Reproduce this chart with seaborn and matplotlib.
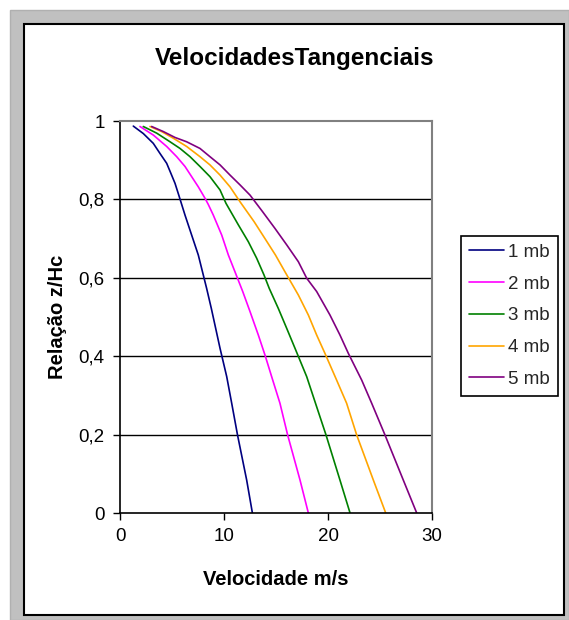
import numpy as np
import pandas as pd
import seaborn as sns
import matplotlib
matplotlib.use("Agg")
import matplotlib.pyplot as plt
from matplotlib.patches import Rectangle
from matplotlib.ticker import FuncFormatter

# ---- data ----
labels = ["1 mb", "2 mb", "3 mb", "4 mb", "5 mb"]
colors = ["#000080", "#FF00FF", "#008000", "#FFA500", "#800080"]

z1 = [0.987, 0.968, 0.943, 0.917, 0.892, 0.866, 0.841, 0.811, 0.760, 0.709, 0.658, 0.607, 0.573, 0.522, 0.471, 0.420, 0.348, 0.280, 0.199, 0.084, 0.0]
v1 = [1.28, 2.24, 3.20, 3.85, 4.49, 4.90, 5.29, 5.65, 6.25, 6.89, 7.53, 8.01, 8.33, 8.78, 9.20, 9.62, 10.26, 10.74, 11.30, 12.18, 12.73]

z2 = [0.986, 0.964, 0.935, 0.909, 0.884, 0.858, 0.832, 0.803, 0.787, 0.760, 0.709, 0.658, 0.615, 0.565, 0.514, 0.454, 0.403, 0.348, 0.280, 0.199, 0.084, 0.0]
v2 = [1.92, 3.21, 4.49, 5.45, 6.25, 6.89, 7.53, 8.17, 8.49, 8.97, 9.78, 10.42, 11.06, 11.80, 12.50, 13.30, 13.94, 14.58, 15.38, 16.12, 17.31, 18.11]

z3 = [0.986, 0.969, 0.947, 0.930, 0.909, 0.884, 0.858, 0.824, 0.790, 0.735, 0.692, 0.650, 0.607, 0.573, 0.522, 0.471, 0.420, 0.348, 0.271, 0.199, 0.084, 0.0]
v3 = [2.24, 3.53, 4.81, 5.77, 6.73, 7.69, 8.65, 9.62, 10.19, 11.38, 12.34, 13.14, 13.85, 14.35, 15.22, 16.03, 16.83, 17.95, 18.91, 19.81, 21.15, 22.12]

z4 = [0.986, 0.973, 0.956, 0.935, 0.909, 0.888, 0.862, 0.832, 0.794, 0.743, 0.700, 0.658, 0.615, 0.556, 0.505, 0.454, 0.407, 0.339, 0.280, 0.199, 0.084, 0.0]
v4 = [2.88, 4.01, 5.13, 6.41, 7.69, 8.65, 9.62, 10.58, 11.54, 12.90, 13.94, 14.95, 15.87, 17.15, 18.11, 18.91, 19.71, 20.83, 21.79, 22.76, 24.36, 25.55]

z5 = [0.986, 0.973, 0.958, 0.947, 0.930, 0.909, 0.888, 0.862, 0.837, 0.811, 0.769, 0.726, 0.684, 0.641, 0.599, 0.565, 0.505, 0.454, 0.407, 0.339, 0.280, 0.199, 0.084, 0.0]
v5 = [3.04, 4.17, 5.29, 6.41, 7.69, 8.65, 9.62, 10.58, 11.54, 12.50, 13.70, 14.90, 16.03, 17.15, 17.95, 18.91, 20.19, 21.15, 21.96, 23.24, 24.20, 25.48, 27.24, 28.53]

x_ticks = [0, 10, 20, 30]
y_ticks = [0, 0.2, 0.4, 0.6, 0.8, 1.0]

title = "VelocidadesTangenciais"
xlabel = "Velocidade m/s"
ylabel = "Relação z/Hc"

frames = []
for lab, v, z in zip(labels, [v1, v2, v3, v4, v5], [z1, z2, z3, z4, z5]):
    frames.append(pd.DataFrame({"v": v, "z": z, "serie": lab}))
df = pd.concat(frames, ignore_index=True)

# ---- figure ----
sns.set_theme(style="white")
plt.rcParams["font.family"] = ["Liberation Sans", "DejaVu Sans"]

W, H = 569, 620
fig = plt.figure(figsize=(W / 100, H / 100), dpi=100)
fig.patch.set_facecolor("white")

def px(x0, y0, x1, y1):
    return (x0 / W, 1 - y1 / H), (x1 - x0) / W, (y1 - y0) / H

# outer gray frame and inner black frame
xy, w, h = px(10, 10, 569, 620)
fig.patches.append(Rectangle(xy, w, h, transform=fig.transFigure, facecolor="#c0c0c0",
                             edgecolor="#b0b0b0", lw=1, zorder=-3))
xy, w, h = px(24, 24, 564, 615)
fig.patches.append(Rectangle(xy, w, h, transform=fig.transFigure, facecolor="white",
                             edgecolor="black", lw=1.5, zorder=-2))

L, R, T, B = 120, 432, 121, 513
ax = fig.add_axes([L / W, 1 - B / H, (R - L) / W, (B - T) / H])
ax.set_facecolor("white")

sns.lineplot(data=df, x="v", y="z", hue="serie", palette=colors, hue_order=labels,
             sort=False, estimator=None, units="serie", lw=1.2, ax=ax, legend=True)

ax.set_xlim(0, 30)
ax.set_ylim(0, 1)
ax.set_xticks(x_ticks)
ax.set_yticks(y_ticks)
fmt = FuncFormatter(lambda val, pos: ("%g" % val).replace(".", ","))
ax.yaxis.set_major_formatter(fmt)
ax.xaxis.set_major_formatter(fmt)
ax.tick_params(axis="both", direction="out", length=5, width=1, color="black",
               labelsize=13.5, labelcolor="black", pad=6, left=True, bottom=True)

for y in y_ticks[1:-1]:
    ax.axhline(y, color="black", lw=1, zorder=0.5)

for s in ["left", "bottom"]:
    ax.spines[s].set_color("black")
    ax.spines[s].set_linewidth(1.2)
for s in ["top", "right"]:
    ax.spines[s].set_color("#808080")
    ax.spines[s].set_linewidth(1.5)

ax.set_xlabel(xlabel, fontsize=14.5, fontweight="bold", labelpad=18, color="black")
ax.set_ylabel(ylabel, fontsize=14.5, fontweight="bold", labelpad=8, color="black")
fig.text(295 / W, 1 - 58 / H, title, fontsize=17.5, fontweight="bold", ha="center",
         va="center", color="black")

handles, labs = ax.get_legend_handles_labels()
if ax.legend_:
    ax.legend_.remove()
leg = fig.legend(handles, labs, loc="upper left",
                 bbox_to_anchor=(461 / W, 1 - 236 / H), bbox_transform=fig.transFigure,
                 frameon=True, fancybox=False, edgecolor="black", framealpha=1,
                 fontsize=13.5, handlelength=1.85, handletextpad=0.25, labelspacing=0.78,
                 borderpad=0.42, borderaxespad=0)
leg.get_frame().set_linewidth(1.2)

fig.savefig("out.png", dpi=100)
